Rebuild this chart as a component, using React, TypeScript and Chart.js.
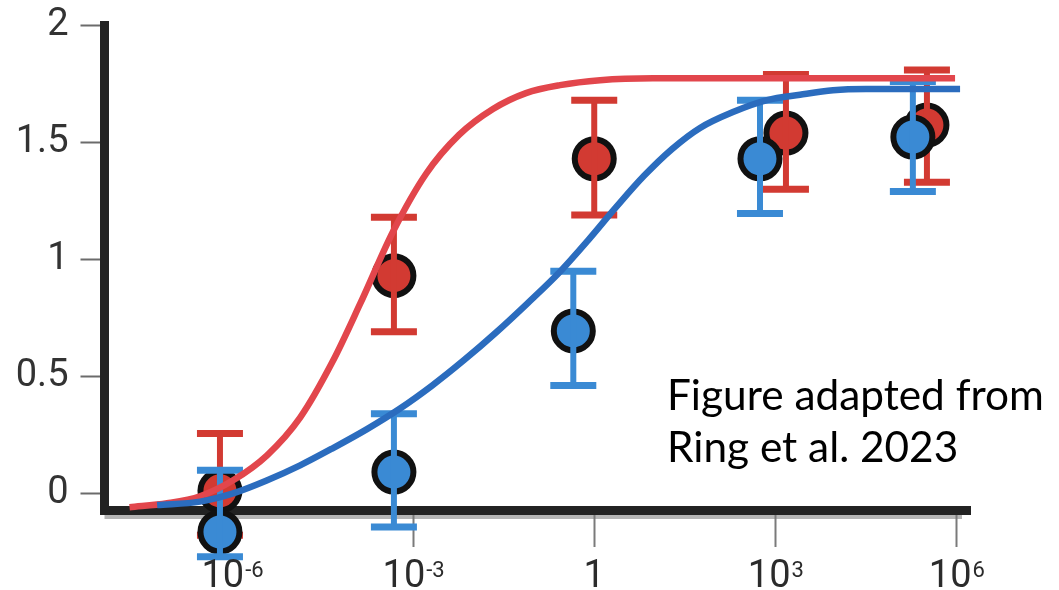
import React, { useEffect, useRef } from 'react';
import { Chart, registerables } from 'chart.js';

Chart.register(...registerables);

// ---- axes ----
const xAxisMin = 7.7e-9;
const xAxisMax = 1.68e6;
const yAxisMin = -0.072;
const yAxisMax = 2;
const xTickValues = [1e-6, 1e-3, 1, 1e3, 1e6];
const xTickBases = ['10', '10', '1', '10', '10'];
const xTickExponents = ['-6', '-3', '', '3', '6'];
const yTickValues = [0, 0.5, 1, 1.5, 2];

// ---- measured points (red series) ----
const redX = [6.3e-7, 4.8e-4, 1.0, 1500, 3.25e5];
const redY = [0.01, 0.93, 1.43, 1.54, 1.574];
const redLow = [-0.18, 0.69, 1.19, 1.30, 1.33];
const redHigh = [0.255, 1.18, 1.68, 1.79, 1.81];

// ---- measured points (blue series) ----
const blueX = [6.3e-7, 4.8e-4, 0.45, 557, 1.9e5];
const blueY = [-0.166, 0.09, 0.694, 1.43, 1.523];
const blueLow = [-0.272, -0.145, 0.46, 1.196, 1.29];
const blueHigh = [0.098, 0.34, 0.949, 1.68, 1.76];

// ---- fitted curves ----
const redCurveX = [2.0e-8, 8.4e-8, 2.95e-7, 1.04e-6, 3.8e-6, 1.34e-5, 4.7e-5, 1.32e-4, 4.65e-4, 1.64e-3, 5.75e-3, 0.021, 0.074, 0.271, 1.25, 9.4, 9.5e5];
const redCurveY = [-0.06, -0.043, -0.013, 0.055, 0.162, 0.323, 0.566, 0.809, 1.119, 1.366, 1.532, 1.643, 1.711, 1.745, 1.766, 1.774, 1.774];

const blueCurveX = [5.73e-8, 2.95e-7, 1.04e-6, 3.66e-6, 1.34e-5, 4.71e-5, 1.72e-4, 6.07e-4, 2.06e-3, 6.97e-3, 0.0236, 0.08, 0.271, 0.789, 2.3, 6.68, 19.5, 56.6, 199, 728, 2565, 9020, 3.18e4, 1.15e6];
const blueCurveY = [-0.051, -0.036, -0.001, 0.053, 0.119, 0.193, 0.274, 0.362, 0.46, 0.569, 0.687, 0.814, 0.947, 1.081, 1.223, 1.357, 1.472, 1.562, 1.63, 1.681, 1.704, 1.723, 1.728, 1.728];

const noteLines = ['Figure adapted from', 'Ring et al. 2023'];

const RED_MARK = '#d23a32';
const RED_LINE = '#e2464c';
const BLUE_MARK = '#3a8ad4';
const BLUE_LINE = '#2b6cbe';

const pts = (xs: number[], ys: number[]) => xs.map((x, i) => ({ x, y: ys[i] }));

const errorBarPlugin = {
  id: 'errorBars',
  afterDatasetDraw(chart: any, args: any) {
    const ds = chart.data.datasets[args.index];
    if (!ds.errLow) return;
    const { ctx } = chart;
    const x = chart.scales.x;
    const y = chart.scales.y;
    ctx.save();
    ctx.strokeStyle = ds.errColor;
    ctx.lineCap = 'butt';
    ds.data.forEach((p: any, i: number) => {
      const px = x.getPixelForValue(p.x);
      const yl = y.getPixelForValue(ds.errLow[i]);
      const yh = y.getPixelForValue(ds.errHigh[i]);
      ctx.lineWidth = 6;
      ctx.beginPath();
      ctx.moveTo(px, yl);
      ctx.lineTo(px, yh);
      ctx.stroke();
      ctx.lineWidth = 7;
      ctx.beginPath();
      ctx.moveTo(px - 23, yl);
      ctx.lineTo(px + 23, yl);
      ctx.moveTo(px - 23, yh);
      ctx.lineTo(px + 23, yh);
      ctx.stroke();
    });
    ctx.restore();
  },
};

const decorPlugin = {
  id: 'decor',
  beforeDatasetsDraw(chart: any) {
    const { ctx, chartArea } = chart;
    ctx.save();
    ctx.strokeStyle = 'rgba(120,120,120,0.55)';
    ctx.lineWidth = 4;
    ctx.beginPath();
    ctx.moveTo(chartArea.left, chartArea.bottom + 7);
    ctx.lineTo(chartArea.right - 8, chartArea.bottom + 7);
    ctx.stroke();
    ctx.restore();
  },
  afterDraw(chart: any) {
    const { ctx, chartArea } = chart;
    const x = chart.scales.x;
    ctx.save();
    ctx.fillStyle = '#2b2b2b';
    ctx.textBaseline = 'alphabetic';
    ctx.textAlign = 'left';
    const baseY = chartArea.bottom + 77;
    xTickValues.forEach((v, i) => {
      const px = x.getPixelForValue(v);
      const base = xTickBases[i];
      const exp = xTickExponents[i];
      ctx.font = '38px Roboto';
      const bw = ctx.measureText(base).width;
      ctx.font = '22px Roboto';
      const ew = exp ? ctx.measureText(exp).width : 0;
      const left = px - (bw + ew) / 2;
      ctx.font = '38px Roboto';
      ctx.fillText(base, left, baseY);
      if (exp) {
        ctx.font = '22px Roboto';
        ctx.fillText(exp, left + bw + 1, baseY - 10);
      }
    });
    // note
    ctx.fillStyle = '#000';
    ctx.font = '100px Lato';
    const w = ctx.measureText(noteLines[0]).width;
    const size = (100 * 377) / w;
    ctx.font = `${size}px Lato`;
    ctx.fillText(noteLines[0], 667, 410);
    ctx.fillText(noteLines[1], 667, 462);
    ctx.restore();
  },
};

export default function App() {
  const ref = useRef<HTMLCanvasElement | null>(null);
  useEffect(() => {
    if (!ref.current) return;
    const chart = new Chart(ref.current, {
      type: 'scatter',
      data: {
        datasets: [
          {
            type: 'line',
            data: pts(redCurveX, redCurveY),
            borderColor: RED_LINE,
            borderWidth: 6.5,
            pointRadius: 0,
            cubicInterpolationMode: 'monotone',
            fill: false,
            clip: false,
            order: 1,
          } as any,
          {
            type: 'line',
            data: pts(blueCurveX, blueCurveY),
            borderColor: BLUE_LINE,
            borderWidth: 6.5,
            pointRadius: 0,
            cubicInterpolationMode: 'monotone',
            fill: false,
            clip: false,
            order: 0,
          } as any,
          {
            type: 'scatter',
            data: pts(redX, redY),
            backgroundColor: RED_MARK,
            borderColor: '#111',
            borderWidth: 6,
            pointRadius: 19.5,
            pointHoverRadius: 19.5,
            clip: false,
            order: 5,
            errLow: redLow,
            errHigh: redHigh,
            errColor: RED_MARK,
          } as any,
          {
            type: 'scatter',
            data: pts(blueX, blueY),
            backgroundColor: BLUE_MARK,
            borderColor: '#111',
            borderWidth: 6,
            pointRadius: 19.5,
            pointHoverRadius: 19.5,
            clip: false,
            order: 4,
            errLow: blueLow,
            errHigh: blueHigh,
            errColor: BLUE_MARK,
          } as any,
        ],
      },
      options: {
        animation: false,
        responsive: false,
        devicePixelRatio: 1,
        layout: { padding: { top: 23, right: 89, left: 0, bottom: 0 } },
        plugins: { legend: { display: false }, tooltip: { enabled: false } },
        events: [],
        scales: {
          x: {
            type: 'logarithmic',
            min: xAxisMin,
            max: xAxisMax,
            afterBuildTicks: (s: any) => {
              s.ticks = xTickValues.map((v) => ({ value: v }));
            },
            afterFit: (s: any) => {
              s.height = 80;
              s.paddingLeft = 0;
              s.paddingRight = 0;
            },
            grid: { drawOnChartArea: false, drawTicks: true, tickLength: 37, tickColor: '#7a7a7a', tickWidth: 2 },
            border: { display: true, color: '#222', width: 9 },
            ticks: { display: false },
          },
          y: {
            type: 'linear',
            min: yAxisMin,
            max: yAxisMax,
            afterBuildTicks: (s: any) => {
              s.ticks = yTickValues.map((v) => ({ value: v }));
            },
            afterFit: (s: any) => {
              s.width = 104.5;
              s.paddingTop = 0;
              s.paddingBottom = 0;
            },
            grid: { drawOnChartArea: false, drawTicks: true, tickLength: 24, tickColor: '#6b6b6b', tickWidth: 2 },
            border: { display: true, color: '#222', width: 9 },
            ticks: {
              font: { family: 'Roboto', size: 38 },
              color: '#333',
              padding: 12,
              callback: (v: any) => String(v),
            },
          },
        },
      } as any,
      plugins: [errorBarPlugin, decorPlugin],
    });
    return () => chart.destroy();
  }, []);
  return (
    <div style={{ position: 'fixed', left: 0, top: 0, width: 1059, height: 590, background: '#fff' }}>
      <canvas ref={ref} width={1059} height={590} />
    </div>
  );
}
